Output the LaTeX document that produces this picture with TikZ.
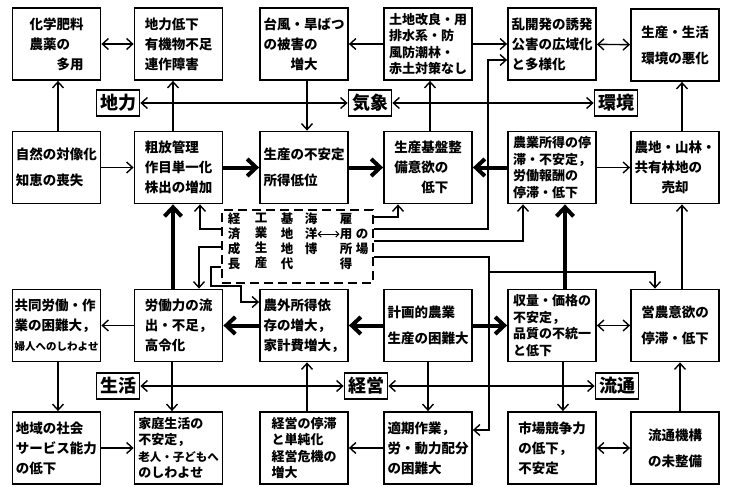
\documentclass[tikz,border=0pt]{standalone}
\usepackage{fontspec}
\setmainfont{Noto Sans CJK JP}
\usetikzlibrary{arrows.meta,calc}
\newcommand\boxfnt{\fontsize{13.5}{20}\selectfont\bfseries}
\newcommand\boxfntq{\fontsize{13}{16.5}\selectfont\bfseries}
\newcommand\labfnt{\fontsize{18}{18}\selectfont\bfseries}
\newcommand\colfnt{\fontsize{12.5}{15}\selectfont\bfseries}
\begin{document}
\begin{tikzpicture}[x=1pt,y=-1pt,
  box/.style={draw, line width=1.8pt, minimum width=88pt, minimum height=72pt, inner sep=1pt, align=left, font=\boxfnt},
  boxq/.style={box, font=\boxfntq},
  lab/.style={draw, line width=1.8pt, minimum width=43pt, minimum height=26pt, inner sep=0pt, font=\labfnt},
  col/.style={inner sep=0pt, align=center, font=\colfnt, anchor=north},
  dbox/.style={draw, line width=1.8pt, dash pattern=on 9pt off 5pt, minimum width=151pt, minimum height=73pt},
  conn/.style={line width=1.4pt, -{Straight Barb[length=6pt,width=11pt]}},
  dconn/.style={line width=1.4pt, {Straight Barb[length=6pt,width=11pt]}-{Straight Barb[length=6pt,width=11pt]}},
  bigconn/.style={line width=4pt, -{Straight Barb[length=9pt,width=17pt]}},
  smallboth/.style={line width=1.1pt, {Straight Barb[length=3pt,width=6pt]}-{Straight Barb[length=3pt,width=6pt]}}
]
\fill[white] (0,0) rectangle (731,487);
\useasboundingbox (0,0) rectangle (731,487);

% row 1
\node[box] (A1) at (56.5,44) {化学肥料\\農薬の\\　　多用};
\node[box] (A2) at (178.5,44) {地力低下\\有機物不足\\連作障害};
\node[box] (A3) at (304,44) {台風・旱ばつ\\の被害の\\　　増大};
\node[boxq] (A4) at (428,44) {土地改良・用\\排水系・防\\風防潮林・\\赤土対策なし};
\node[box] (A5) at (552,44) {乱開発の誘発\\公害の広域化\\と多様化};
\node[box] (A6) at (675,45) {生産・生活\\[6pt]環境の悪化};
% row 2
\node[box] (B1) at (56.5,167.5) {自然の対像化\\[6pt]知恵の喪失};
\node[box] (B2) at (178.5,167.5) {粗放管理\\作目単一化\\株出の増加};
\node[box] (B3) at (304,167.5) {生産の不安定\\[6pt]所得低位};
\node[box] (B4) at (428,167.5) {生産基盤整\\備意欲の\\　　低下};
\node[boxq] (B5) at (552,167.5) {農業所得の停\\滞・不安定，\\労働報酬の\\停滞・低下};
\node[box] (B6) at (675,167.5) {農地・山林・\\共有林地の\\　　売却};
% row 3
\node[box] (C1) at (56.5,325.5) {共同労働・作\\業の困難大，\\{\fontsize{10.5}{20}\selectfont 婦人へのしわよせ}};
\node[box] (C2) at (178.5,325.5) {労働力の流\\出・不足，\\高令化};
\node[box] (C3) at (304,325.5) {農外所得依\\存の増大，\\家計費増大，};
\node[box] (C4) at (428,325.5) {計画的農業\\[6pt]生産の困難大};
\node[boxq] (C5) at (552,325.5) {収量・価格の\\不安定，\\品質の不統一\\と低下};
\node[box] (C6) at (675,325.5) {営農意欲の\\[6pt]停滞・低下};
% row 4
\node[box] (D1) at (56.5,448) {地域の社会\\サービス能力\\の低下};
\node[boxq] (D2) at (178.5,448) {家庭生活の\\不安定，\\{\fontsize{11.5}{16.5}\selectfont 老人・子どもへ}\\のしわよせ};
\node[boxq] (D3) at (304,448) {経営の停滞\\と単純化\\経営危機の\\増大};
\node[box] (D4) at (428,448) {適期作業，\\労・動力配分\\の困難大};
\node[box] (D5) at (552,448) {市場競争力\\の低下，\\不安定};
\node[box] (D6) at (675,448) {流通機構\\[6pt]の未整備};

% category labels
\node[lab] (L1) at (118,103) {地力};
\node[lab] (L2) at (370,103) {気象};
\node[lab] (L3) at (616,103) {環境};
\node[lab] (L4) at (118,386) {生活};
\node[lab] (L5) at (366,386) {経営};
\node[lab] (L6) at (617,386) {流通};
\draw[dconn] (L1) -- (L2);
\draw[dconn] (L2) -- (L3);
\draw[dconn] (L4) -- (L5);
\draw[dconn] (L5) -- (L6);

% centre dashed box
\node[dbox] (ctr) at (297.5,246.5) {};
\node[col] (t1) at (234,213) {経\\済\\成\\長};
\node[col] (t2) at (261,213) {工\\業\\生\\産};
\node[col] (t3) at (287,213) {基\\地\\地\\代};
\node[col] (t4) at (311,213) {海\\洋\\博};
\node[col] (t5) at (346,213) {雇\\用\\所\\得};
\node[col] (t6) at (362,229) {の\\場};
\draw[smallboth] (t4.east) -- (t4.east -| t5.west);

% row 1 horizontals
\draw[dconn] (A1) -- (A2);
\draw[conn] (A4) -- (A3);
\draw[conn] (A4) -- (A5);
\draw[dconn] (A5) -- (A6);
% row1-row2 verticals
\draw[conn] ([xshift=1.5pt]B1.north) -- ([xshift=1.5pt]A1.south);
\draw[conn] ([xshift=-5.5pt]B2.north) -- ([xshift=-5.5pt]A2.south);
\draw[conn] ([xshift=3pt]A3.south) -- ([xshift=3pt]B3.north);
\draw[conn] ([xshift=2pt]B4.north) -- ([xshift=2pt]A4.south);
\draw[conn] ([xshift=7pt]B6.north) -- ([xshift=7pt]A6.south);
% row 2 horizontals
\draw[conn] (B1) -- (B2);
\draw[bigconn] (B2) -- (B3);
\draw[bigconn] (B3) -- (B4);
\draw[bigconn] (B5) -- (B4);
\draw[conn] (B5) -- (B6);
% row2-row3 verticals
\draw[bigconn] ([xshift=-5.5pt]C2.north) -- ([xshift=-5.5pt]B2.south);
\draw[bigconn] ([xshift=13pt]C5.north) -- ([xshift=13pt]B5.south);
\draw[conn] ([xshift=7pt]C6.north) -- ([xshift=7pt]B6.south);
% row 3 horizontals
\draw[conn] (C2) -- (C1);
\draw[bigconn] (C3) -- (C2);
\draw[bigconn] (C4) -- (C3);
\draw[bigconn] (C4) -- (C5);
\draw[dconn] (C5) -- (C6);
% row3-row4 verticals
\draw[conn] ([xshift=1.5pt]C1.south) -- ([xshift=1.5pt]D1.north);
\draw[conn] ([xshift=-6.5pt]C2.south) -- ([xshift=-6.5pt]D2.north);
\draw[conn] ([xshift=3pt]D3.north) -- ([xshift=3pt]C3.south);
\draw[conn] (C4.south) -- (D4.north);
\draw[conn] ([xshift=11pt]C5.south) -- ([xshift=11pt]D5.north);
\draw[conn] ([xshift=5pt]D6.north) -- ([xshift=5pt]C6.south);
% row 4 horizontals
\draw[conn] (D1) -- (D2);
\draw[conn] (D4) -- (D3);
\draw[dconn] (D5) -- (D6);

% centre box outputs
\draw[conn] ([yshift=-8pt]ctr.north east) -| ([xshift=-30pt]B4.south);
\draw[conn] ([yshift=-20pt]ctr.north east) -- ++(114,0) |- ([yshift=-16pt]A5.west);
\draw[conn] ([yshift=-32pt]ctr.north east) -| ([xshift=-29pt]B5.south);
\draw[conn] ([yshift=-48pt]ctr.north east) -- ++(115,0) coordinate (jD) |- ([yshift=18pt]D4.east);
\coordinate (jC) at ($(jD)+(0,15)$);
\draw[conn] (jC) -| ([xshift=-20pt]C6.north);
\draw[conn] ([yshift=-20pt]ctr.north west) -| ([xshift=21.5pt]B2.south);
\draw[conn] ([yshift=-38pt]ctr.north west) -| ([xshift=20.5pt]C2.north);
\draw[conn] ([yshift=-58pt]ctr.north west) -- ++(-10,0) -- ++(0,19) -- ++(30,0) |- ([yshift=23.5pt]C3.west);
\end{tikzpicture}
\end{document}
